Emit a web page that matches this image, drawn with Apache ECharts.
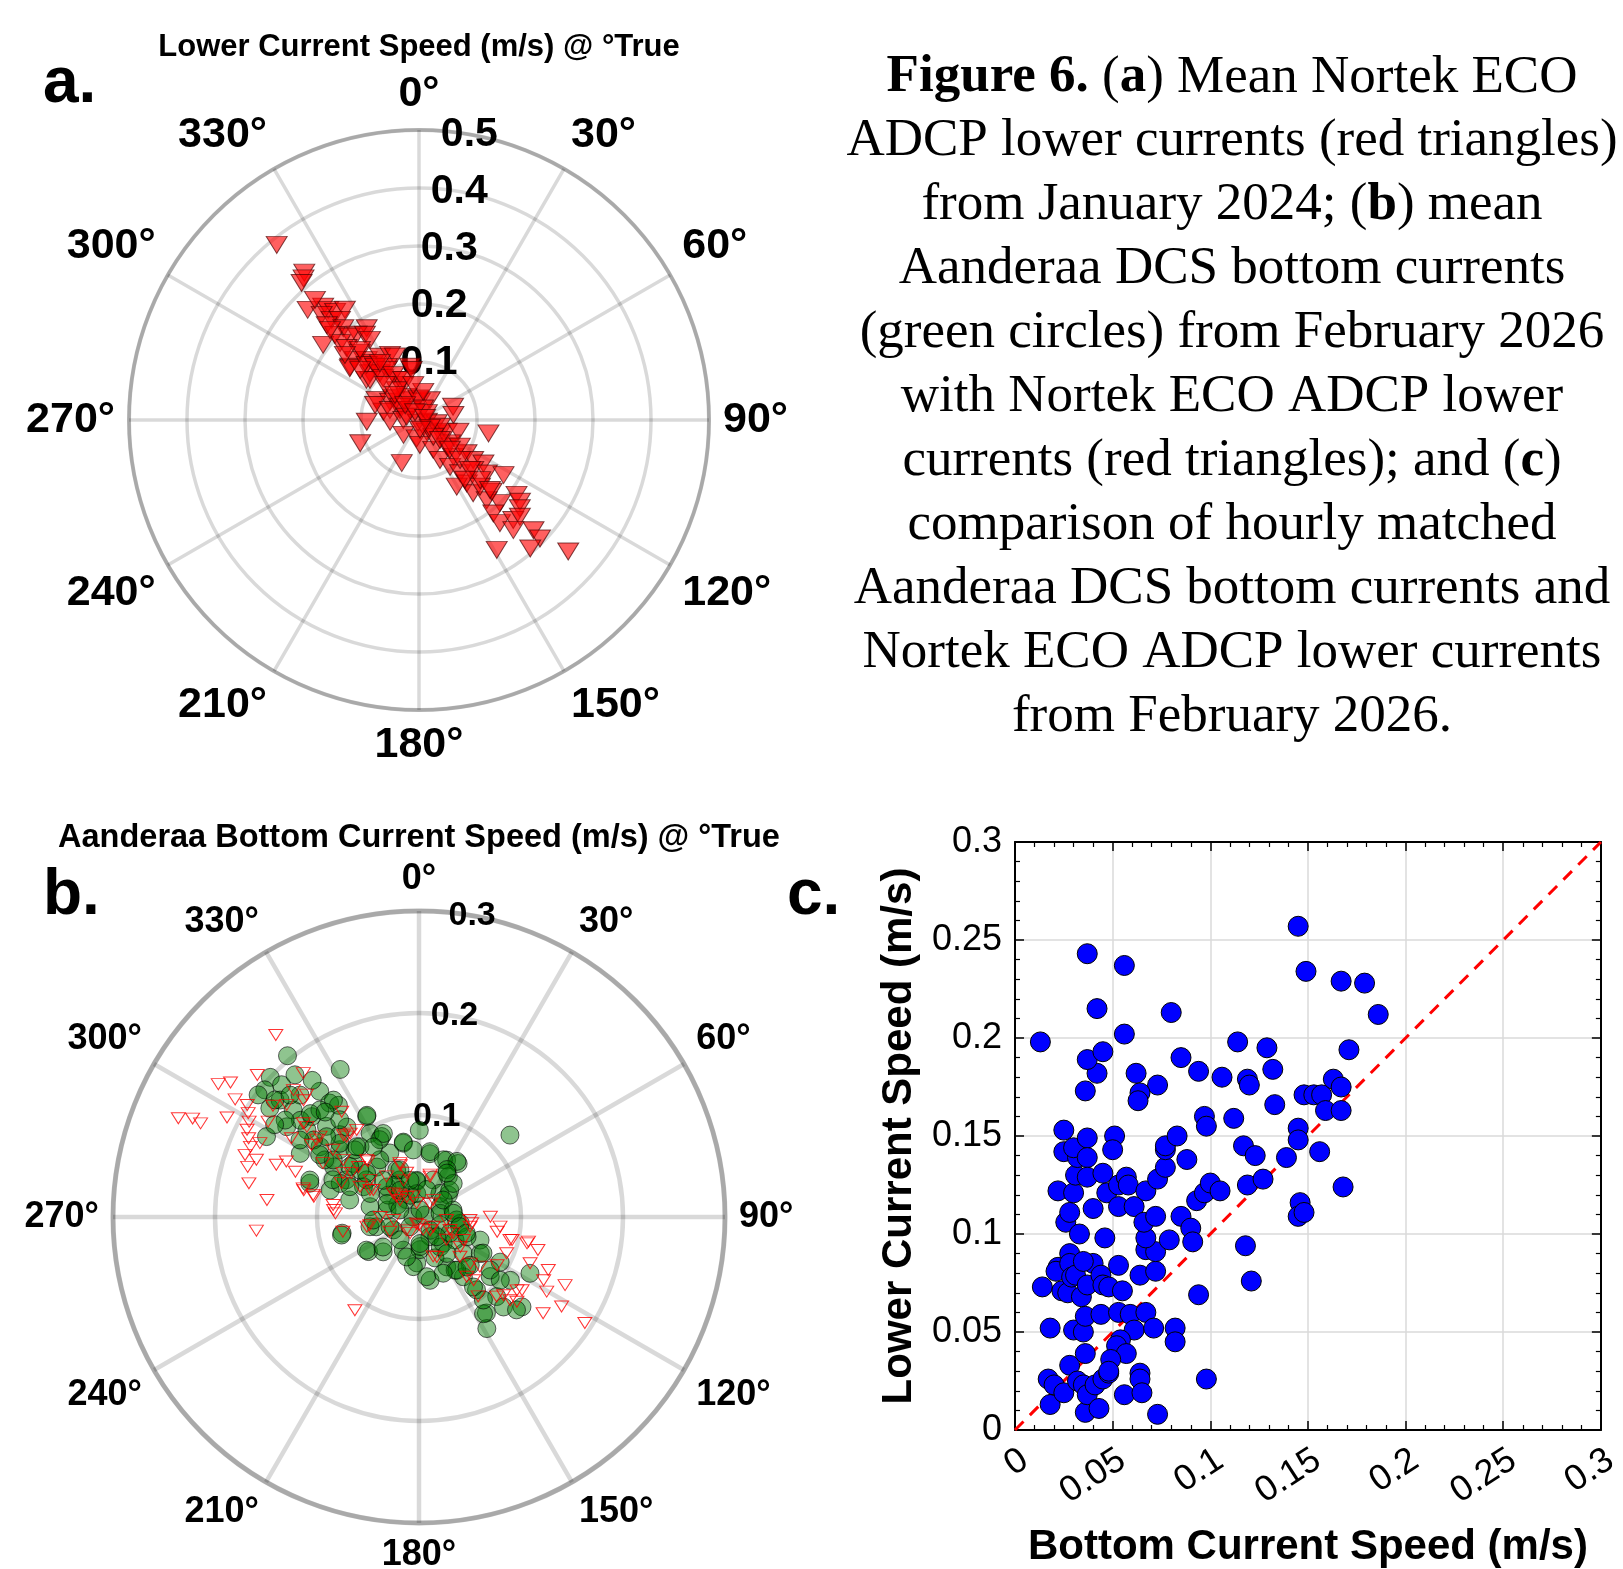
<!DOCTYPE html>
<html>
<head>
<meta charset="utf-8">
<title>Figure 6 - Lower and bottom currents</title>
<script src="https://cdn.jsdelivr.net/npm/echarts@6/dist/echarts.min.js"></script>
<style>
    html, body { margin: 0; padding: 0; background: #fff; }
    #chart { width: 1623px; height: 1569px; }
</style>
</head>
<body>
<div id="chart"></div>
<script>
/* ── Data ─────────────────────────────────────────────────────────── */
// (a) Nortek ECO ADCP lower currents, January 2024: [speed m/s, direction °True]
const lowerJan2024 = [
    [0.389,320.9],[0.322,322.1],[0.315,320.8],[0.311,319.4],[0.270,314.7],[0.256,319.8],[0.246,320.5],[0.236,322.2],
    [0.229,326.1],[0.247,317.2],[0.229,318.9],[0.220,321.7],[0.228,315.8],[0.205,320.5],[0.182,330.3],[0.182,323.8],
    [0.206,315.3],[0.187,320.4],[0.210,308.1],[0.190,314.2],[0.176,314.8],[0.174,327.6],[0.162,328.5],[0.154,318.5],
    [0.151,313.1],[0.137,318.9],[0.126,321.1],[0.128,328.4],[0.123,336.0],[0.117,339.2],[0.150,307.7],[0.117,313.6],
    [0.105,320.1],[0.107,328.8],[0.093,350.4],[0.114,307.4],[0.079,330.9],[0.066,335.8],[0.081,295.3],[0.059,302.2],
    [0.040,328.4],[0.032,3.0],[0.039,28.8],[0.063,283.1],[0.037,297.8],[0.149,306.8],[0.131,316.4],[0.119,320.5],
    [0.103,327.1],[0.109,309.2],[0.095,319.4],[0.089,330.3],[0.074,338.6],[0.087,351.7],[0.058,310.2],[0.045,332.2],
    [0.037,358.0],[0.080,288.8],[0.053,289.0],[0.040,305.0],[0.023,318.0],[0.063,68.8],[0.060,81.7],[0.090,268.1],
    [0.050,266.6],[0.027,270.0],[0.005,200.0],[0.014,102.0],[0.031,100.6],[0.109,248.4],[0.037,226.3],[0.032,187.2],
    [0.024,146.7],[0.043,122.3],[0.052,112.9],[0.071,106.6],[0.122,100.9],[0.080,201.8],[0.043,178.0],[0.057,154.5],
    [0.066,133.9],[0.078,152.3],[0.087,136.9],[0.100,124.9],[0.116,126.4],[0.134,124.0],[0.097,146.4],[0.116,142.4],
    [0.127,132.6],[0.149,128.2],[0.174,123.1],[0.137,143.0],[0.157,143.5],[0.181,139.8],[0.200,135.8],[0.212,127.5],
    [0.224,129.0],[0.231,131.2],[0.206,141.5],[0.226,141.9],[0.237,136.7],[0.241,133.8],[0.250,139.4],[0.274,133.9],
    [0.292,134.4],[0.261,149.1],[0.293,139.1],[0.343,131.4],[0.156,137.6],[0.176,134.6],[0.132,150.5],[0.021,20.0],
    [0.038,107.7],[0.067,126.9],[0.084,123.1],[0.038,139.4],[0.018,49.0],[0.022,285.0],[0.064,323.4],[0.049,8.6],
    [0.061,350.7],[0.133,310.3],[0.119,325.5],[0.084,315.8],[0.060,316.2],[0.035,317.0],[0.015,333.0],[0.011,72.0],
    [0.023,126.0],[0.050,133.6],[0.074,134.0],[0.099,134.3],[0.123,134.4],[0.148,134.5],[0.130,142.5],[0.172,134.6],
    [0.158,319.9],[0.170,311.3],[0.218,315.3],[0.274,319.1],[0.017,174.0]
];

// (b) Aanderaa DCS bottom currents, February 2026: [speed m/s, direction °True]
const bottomFeb2026 = [
    [0.204,320.8],[0.164,331.9],[0.200,313.2],[0.187,313.9],[0.167,315.7],[0.157,321.7],[0.181,306.1],[0.162,310.4],
    [0.144,313.1],[0.142,321.9],[0.135,324.2],[0.111,332.5],[0.169,297.8],[0.112,287.2],[0.157,304.3],[0.139,307.8],
    [0.127,314.4],[0.113,321.3],[0.095,329.7],[0.087,335.1],[0.074,348.0],[0.119,305.4],[0.102,310.3],[0.090,320.0],
    [0.069,335.5],[0.097,300.4],[0.083,309.3],[0.064,319.9],[0.091,286.9],[0.080,297.1],[0.063,305.3],[0.043,313.2],
    [0.070,283.8],[0.049,281.9],[0.041,332.8],[0.077,258.1],[0.043,257.1],[0.132,298.2],[0.120,48.0],[0.085,0.2],
    [0.063,9.8],[0.062,25.9],[0.065,36.2],[0.049,36.0],[0.036,53.1],[0.035,356.3],[0.085,333.1],[0.068,325.6],
    [0.051,334.6],[0.060,235.6],[0.049,225.8],[0.049,258.8],[0.028,243.2],[0.006,270.0],[0.023,63.9],[0.034,78.5],
    [0.041,98.7],[0.022,150.8],[0.036,205.4],[0.045,182.8],[0.063,170.1],[0.056,150.9],[0.056,129.3],[0.064,110.7],
    [0.070,120.8],[0.073,143.4],[0.091,141.7],[0.091,129.9],[0.109,135.7],[0.115,144.9],[0.128,148.7],[0.109,124.7],
    [0.134,131.1],[0.122,116.9],[0.121,136.8],[0.035,137.3],[0.032,178.3],[0.032,282.2],[0.021,324.1],[0.062,298.6],
    [0.084,293.1],[0.042,122.6],[0.069,133.3],[0.022,110.9],[0.006,72.0],[0.024,299.7],[0.043,158.7],[0.063,145.8],
    [0.091,119.1],[0.037,305.4],[0.074,308.5],[0.143,317.2],[0.150,309.2],[0.178,310.1],[0.112,316.1],[0.091,316.3],
    [0.108,301.2],[0.039,323.1],[0.023,337.7],
    [0.142,323.8],[0.123,320.8],[0.112,332.9],[0.089,336.9],[0.075,348.2],[0.066,355.1],[0.065,9.6],[0.061,23.1],
    [0.066,34.3],[0.054,30.5],[0.039,21.1],[0.036,356.4],[0.050,338.0],[0.082,327.0],[0.092,318.5],[0.106,313.0],
    [0.120,311.0],[0.147,313.6],[0.128,306.1],[0.101,303.6],[0.084,306.1],[0.067,309.9],[0.050,316.0],[0.032,324.9],
    [0.023,354.5],[0.031,41.5],[0.040,48.9],[0.092,293.4],[0.074,293.7],[0.053,295.8],[0.034,293.0],[0.020,290.2],
    [0.007,8.0],[0.021,80.0],[0.037,94.5],[0.045,266.2],[0.030,251.5],[0.013,222.9],[0.017,139.8],[0.034,117.7],
    [0.051,112.4],[0.061,237.8],[0.046,230.2],[0.029,219.6],[0.029,178.0],[0.036,144.7],[0.113,288.7],[0.078,256.9],
    [0.037,346.3],[0.028,15.9],[0.029,55.0],[0.034,83.8],[0.041,103.3],[0.049,108.9],[0.072,119.4],[0.087,126.7],
    [0.101,127.9],[0.114,146.3],[0.132,133.6],[0.064,144.6],[0.060,156.7],[0.059,172.7],[0.049,186.5],[0.041,197.2],
    [0.026,178.0],[0.026,138.1],[0.045,142.6],[0.068,136.2],[0.087,142.1],[0.103,142.2],[0.047,45.5],[0.051,32.4],
    [0.196,309.5],[0.182,309.1],[0.174,313.4],[0.185,318.9],[0.170,322.0],[0.138,318.2],[0.162,305.9],[0.139,302.9],
    [0.115,302.1],[0.168,302.6],[0.198,307.2]
];

// (b) Nortek ECO ADCP lower currents, February 2026: [speed m/s, direction °True]
const lowerFeb2026 = [
    [0.227,321.8],[0.181,321.2],[0.211,311.3],[0.236,303.5],[0.227,305.5],[0.214,302.6],[0.255,292.3],[0.242,293.5],
    [0.233,293.2],[0.212,297.4],[0.201,303.1],[0.196,301.3],[0.191,299.3],[0.189,296.9],[0.184,294.8],[0.179,292.6],
    [0.172,294.9],[0.181,289.6],[0.175,286.3],[0.170,281.2],[0.150,276.4],[0.160,265.2],[0.169,289.4],[0.149,290.1],
    [0.175,302.3],[0.180,307.3],[0.175,315.3],[0.163,317.4],[0.170,310.3],[0.146,309.0],[0.147,301.7],[0.127,303.9],
    [0.125,309.1],[0.141,292.7],[0.129,290.1],[0.117,283.9],[0.106,281.8],[0.128,323.7],[0.105,324.4],[0.109,317.3],
    [0.074,317.5],[0.085,278.0],[0.082,272.5],[0.076,259.0],[0.049,260.7],[0.051,321.3],[0.034,312.7],[0.025,311.8],
    [0.083,293.6],[0.108,299.3],[0.079,303.0],[0.065,297.2],[0.111,214.5],[0.070,89.8],[0.052,96.8],[0.080,96.8],
    [0.094,103.9],[0.110,102.7],[0.121,105.5],[0.093,112.5],[0.118,112.6],[0.137,112.3],[0.137,116.9],[0.145,120.3],
    [0.158,115.0],[0.165,122.1],[0.154,127.8],[0.193,122.6],[0.124,125.4],[0.127,130.9],[0.113,132.8],[0.097,143.3],
    [0.090,121.7],[0.077,129.2],[0.075,141.4],[0.049,117.4],[0.037,115.4],[0.043,156.0],[0.017,139.8],[0.018,208.9],
    [0.032,243.1],[0.038,270.0],[0.030,312.3],[0.014,350.5],[0.022,40.1],[0.043,14.7],[0.039,337.0],[0.055,298.9],
    [0.076,317.5],[0.054,340.1],[0.093,307.0],[0.106,320.5],[0.107,308.0],[0.008,180.0],[0.027,96.2],
    [0.106,318.0],[0.086,300.0],[0.077,309.6],[0.060,307.0],[0.052,300.6],[0.056,340.5],[0.045,344.3],[0.029,319.2],
    [0.021,344.3],[0.041,15.3],[0.025,263.3],[0.018,223.4],[0.013,161.7],[0.017,124.1],[0.052,259.5],[0.084,274.7],
    [0.105,280.9],[0.116,283.1],[0.126,307.0],[0.141,308.8],[0.161,315.3],[0.035,129.7],[0.050,125.9],[0.051,100.8],
    [0.023,328.8],[0.017,38.8],[0.007,200.0],[0.033,112.7],[0.041,160.2],[0.056,134.1],[0.068,132.2],[0.082,139.2],
    [0.109,135.7],[0.121,132.4],[0.120,126.8],[0.050,93.4],[0.078,100.7],[0.092,104.2],[0.109,103.7]
];

// (c) hourly matched speeds: [bottom (Aanderaa) m/s, lower (Nortek) m/s]
const matchedSpeeds = [
    [0.013,0.198],[0.014,0.073],[0.018,0.052],[0.018,0.013],[0.017,0.026],[0.020,0.023],[0.025,0.019],[0.022,0.122],
    [0.025,0.153],[0.025,0.142],[0.026,0.106],[0.028,0.111],[0.028,0.090],[0.022,0.083],[0.021,0.081],[0.028,0.085],
    [0.024,0.071],[0.027,0.070],[0.029,0.078],[0.031,0.079],[0.034,0.068],[0.030,0.051],[0.035,0.050],[0.028,0.033],
    [0.032,0.025],[0.035,0.023],[0.036,0.009],[0.037,0.018],[0.043,0.011],[0.041,0.023],[0.045,0.026],[0.048,0.029],
    [0.036,0.039],[0.036,0.058],[0.037,0.074],[0.040,0.085],[0.035,0.086],[0.044,0.079],[0.045,0.074],[0.048,0.073],
    [0.044,0.059],[0.033,0.100],[0.040,0.113],[0.046,0.098],[0.030,0.121],[0.031,0.130],[0.032,0.139],[0.030,0.144],
    [0.037,0.149],[0.037,0.139],[0.037,0.129],[0.045,0.131],[0.047,0.121],[0.036,0.173],[0.042,0.182],[0.037,0.189],
    [0.045,0.193],[0.042,0.215],[0.037,0.243],[0.056,0.237],[0.056,0.202],[0.051,0.150],[0.050,0.143],[0.053,0.125],
    [0.057,0.129],[0.058,0.125],[0.053,0.114],[0.061,0.114],[0.053,0.084],[0.055,0.071],[0.053,0.060],[0.059,0.059],
    [0.061,0.051],[0.067,0.060],[0.071,0.052],[0.054,0.046],[0.052,0.043],[0.057,0.039],[0.049,0.036],[0.048,0.030],
    [0.056,0.018],[0.064,0.029],[0.064,0.026],[0.065,0.019],[0.073,0.008],[0.082,0.052],[0.082,0.045],[0.098,0.026],
    [0.094,0.069],[0.064,0.079],[0.072,0.081],[0.067,0.092],[0.072,0.091],[0.067,0.098],[0.066,0.106],[0.072,0.109],
    [0.067,0.122],[0.073,0.128],[0.077,0.134],[0.077,0.143],[0.077,0.145],[0.083,0.150],[0.088,0.138],[0.079,0.097],
    [0.085,0.109],[0.090,0.103],[0.091,0.096],[0.093,0.117],[0.097,0.121],[0.100,0.126],[0.105,0.122],[0.097,0.160],
    [0.098,0.155],[0.094,0.183],[0.085,0.190],[0.080,0.213],[0.073,0.176],[0.062,0.182],[0.064,0.172],[0.063,0.168],
    [0.106,0.180],[0.114,0.198],[0.112,0.159],[0.119,0.179],[0.120,0.176],[0.117,0.145],[0.123,0.140],[0.119,0.125],
    [0.127,0.128],[0.118,0.094],[0.121,0.076],[0.129,0.195],[0.132,0.184],[0.133,0.166],[0.139,0.139],[0.145,0.257],
    [0.149,0.234],[0.145,0.154],[0.145,0.148],[0.146,0.116],[0.145,0.109],[0.148,0.111],[0.148,0.171],[0.153,0.171],
    [0.157,0.171],[0.159,0.163],[0.156,0.142],[0.163,0.179],[0.167,0.175],[0.167,0.163],[0.168,0.124],[0.171,0.194],
    [0.167,0.229],[0.179,0.228],[0.186,0.212]
];

// 1:1 reference line for (c)
const oneToOne = [[0, 0], [0.3, 0.3]];

const captionLines = [
    '{b|Figure 6.} ({b|a}) Mean Nortek ECO',
    'ADCP lower currents (red triangles)',
    'from January 2024; ({b|b}) mean',
    'Aanderaa DCS bottom currents',
    '(green circles) from February 2026',
    'with Nortek ECO ADCP lower',
    'currents (red triangles); and ({b|c})',
    'comparison of hourly matched',
    'Aanderaa DCS bottom currents and',
    'Nortek ECO ADCP lower currents',
    'from February 2026.'
];

/* ── Styles ───────────────────────────────────────────────────────── */
const SANS = '"Liberation Sans", Arial, Helvetica, sans-serif';
const SERIF = '"Liberation Serif", "Times New Roman", serif';
const GRID_GRAY = 'rgba(0,0,0,0.15)';
const RIM_GRAY = 'rgba(0,0,0,0.22)';

function compassAxis(polarIndex, fontSize, lineWidth) {
    return {
        polarIndex,
        type: 'value',
        min: 0,
        max: 360,
        interval: 30,
        startAngle: 90,
        clockwise: true,
        axisLine: { show: true, lineStyle: { color: RIM_GRAY, width: lineWidth + 0.5 } },
        axisTick: { show: false },
        axisLabel: {
            margin: 14,
            color: '#000',
            fontFamily: SANS,
            fontWeight: 'bold',
            fontSize,
            formatter: v => (v === 360 ? '' : v + '°')
        },
        splitLine: { show: true, lineStyle: { color: GRID_GRAY, width: lineWidth } }
    };
}

function speedRings(polarIndex, max, lineWidth) {
    return {
        polarIndex,
        type: 'value',
        min: 0,
        max,
        interval: 0.1,
        axisLine: { show: false },
        axisTick: { show: false },
        axisLabel: { show: false },
        splitLine: { show: true, lineStyle: { color: GRID_GRAY, width: lineWidth } }
    };
}

// rtick labels sit on a ray 10° east of north, like the source plot
function speedLabels(polarIndex, max, fontSize) {
    return {
        polarIndex,
        type: 'value',
        min: 0,
        max,
        interval: 0.1,
        axisLine: { show: false },
        axisTick: { show: false },
        splitLine: { show: false },
        axisLabel: {
            show: true,
            margin: 0,
            align: 'center',
            verticalAlign: 'middle',
            color: '#000',
            fontFamily: SANS,
            fontWeight: 'bold',
            fontSize,
            formatter: v => (v === 0 ? '' : String(+v.toFixed(1)))
        }
    };
}

function hiddenAngle(polarIndex) {
    return { polarIndex, type: 'value', min: 0, max: 360, startAngle: 80, show: false };
}

function boxAxis(position, showLabels) {
    const isX = position === 'bottom' || position === 'top';
    return {
        type: 'value',
        position,
        min: 0,
        max: 0.3,
        interval: 0.05,
        axisLine: { show: true, onZero: false, lineStyle: { color: '#000', width: 2 } },
        axisTick: { show: true, inside: true, length: 9, lineStyle: { color: '#000', width: 1.5 } },
        minorTick: { show: true, splitNumber: 5, length: 5, lineStyle: { color: '#000', width: 1.2 } },
        splitLine: { show: showLabels, lineStyle: { color: '#dadada', width: 1.5 } },
        axisLabel: showLabels ? {
            color: '#000',
            fontFamily: SANS,
            fontSize: 36,
            margin: isX ? 12 : 13,
            rotate: isX ? 33 : 0,
            align: 'right',
            verticalAlign: isX ? 'top' : 'middle'
        } : { show: false }
    };
}

/* ── Text elements ────────────────────────────────────────────────── */
function textEl(x, y, text, font, align) {
    return {
        type: 'text',
        x, y,
        silent: true,
        style: { text, font, fill: '#000', align: align || 'center', verticalAlign: 'middle' }
    };
}

const graphics = [
    textEl(419, 47, 'Lower Current Speed (m/s) @ °True', 'bold 31px ' + SANS),
    textEl(419, 838, 'Aanderaa Bottom Current Speed (m/s) @ °True', 'bold 32.5px ' + SANS),
    textEl(43, 84, 'a.', 'bold 64px ' + SANS, 'left'),
    textEl(43, 896, 'b.', 'bold 64px ' + SANS, 'left'),
    textEl(787, 896, 'c.', 'bold 64px ' + SANS, 'left')
];

captionLines.forEach((line, i) => {
    graphics.push({
        type: 'text',
        x: 1232,
        y: 77.6 + 63.9 * i,
        silent: true,
        style: {
            text: line,
            font: '53px ' + SERIF,
            fill: '#000',
            align: 'center',
            verticalAlign: 'middle',
            rich: { b: { font: 'bold 53px ' + SERIF, fill: '#000' } }
        }
    });
});

/* ── Chart ────────────────────────────────────────────────────────── */
const chart = echarts.init(document.getElementById('chart'), null, { renderer: 'canvas' });

chart.setOption({
    backgroundColor: '#fff',
    animation: false,
    polar: [
        { center: [419, 420], radius: 290 },
        { center: [419, 420], radius: 290 },
        { center: [419, 1217], radius: 306 },
        { center: [419, 1217], radius: 306 }
    ],
    angleAxis: [
        compassAxis(0, 43, 3.5),
        hiddenAngle(1),
        compassAxis(2, 36, 4.5),
        hiddenAngle(3)
    ],
    radiusAxis: [
        speedRings(0, 0.5, 3.5),
        speedLabels(1, 0.5, 41),
        speedRings(2, 0.3, 4.5),
        speedLabels(3, 0.3, 34)
    ],
    grid: { left: 1015, top: 842, width: 591, height: 588 },
    xAxis: [
        Object.assign(boxAxis('bottom', true), {
            name: 'Bottom Current Speed (m/s)',
            nameLocation: 'middle',
            nameGap: 96,
            nameTextStyle: { color: '#000', fontFamily: SANS, fontWeight: 'bold', fontSize: 42 }
        }),
        boxAxis('top', false)
    ],
    yAxis: [
        Object.assign(boxAxis('left', true), {
            name: 'Lower Current Speed (m/s)',
            nameLocation: 'middle',
            nameGap: 95,
            nameTextStyle: { color: '#000', fontFamily: SANS, fontWeight: 'bold', fontSize: 42 }
        }),
        boxAxis('right', false)
    ],
    series: [
        {
            type: 'scatter',
            coordinateSystem: 'polar',
            polarIndex: 0,
            data: lowerJan2024,
            symbol: 'triangle',
            symbolRotate: 180,
            symbolSize: [21, 17],
            itemStyle: { color: 'rgba(255,0,0,0.78)', borderColor: 'rgba(70,0,0,0.85)', borderWidth: 1 }
        },
        {
            type: 'scatter',
            coordinateSystem: 'polar',
            polarIndex: 2,
            data: bottomFeb2026,
            symbol: 'circle',
            symbolSize: 18,
            itemStyle: { color: 'rgba(0,120,0,0.55)', borderColor: 'rgba(0,0,0,0.75)', borderWidth: 1 }
        },
        {
            type: 'scatter',
            coordinateSystem: 'polar',
            polarIndex: 2,
            data: lowerFeb2026,
            symbol: 'triangle',
            symbolRotate: 180,
            symbolSize: [14, 11],
            itemStyle: { color: 'rgba(255,255,255,0)', borderColor: '#ff0000', borderWidth: 1 }
        },
        {
            type: 'line',
            xAxisIndex: 0,
            yAxisIndex: 0,
            data: oneToOne,
            showSymbol: false,
            silent: true,
            lineStyle: { color: '#ff0000', width: 3, type: [12, 9] },
            z: 1
        },
        {
            type: 'scatter',
            xAxisIndex: 0,
            yAxisIndex: 0,
            data: matchedSpeeds,
            symbol: 'circle',
            symbolSize: 20,
            itemStyle: { color: '#0000ff', borderColor: '#000', borderWidth: 1, opacity: 1 },
            z: 3
        }
    ],
    graphic: graphics
});
</script>
</body>
</html>
